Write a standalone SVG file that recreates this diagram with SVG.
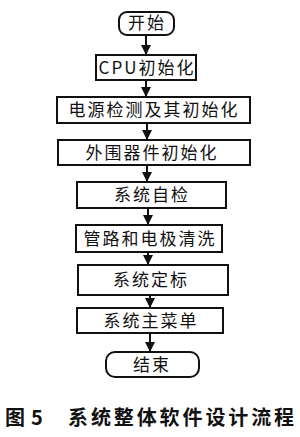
<svg xmlns="http://www.w3.org/2000/svg" width="300" height="437" viewBox="0 0 300 437">
<style>
.b{fill:#fff;stroke:#111;stroke-width:2}
.t{font-family:"Noto Sans CJK SC","Liberation Serif",sans-serif;font-size:17px;fill:#111;text-anchor:middle;letter-spacing:2px}
.c{stroke:#111;stroke-width:2;fill:none}
.cap{font-family:"Noto Sans CJK SC","Liberation Sans",sans-serif;font-size:20px;fill:#111;font-weight:bold}
</style>
<defs>
<marker id="ah" viewBox="0 0 10 10" refX="10" refY="5" markerWidth="5" markerHeight="5" orient="auto" markerUnits="strokeWidth">
<path d="M0,0 L10,5 L0,10 z" fill="#111"/>
</marker>
</defs>
<rect width="300" height="437" fill="#fff"/>
<g id="connectors">
<line class="c" x1="146" y1="35" x2="146" y2="55" marker-end="url(#ah)"/>
<line class="c" x1="146" y1="80" x2="146" y2="97" marker-end="url(#ah)"/>
<line class="c" x1="147" y1="123" x2="147" y2="140" marker-end="url(#ah)"/>
<line class="c" x1="147" y1="165" x2="147" y2="182" marker-end="url(#ah)"/>
<line class="c" x1="148" y1="208" x2="148" y2="225" marker-end="url(#ah)"/>
<line class="c" x1="148" y1="252" x2="148" y2="265" marker-end="url(#ah)"/>
<line class="c" x1="150" y1="295" x2="150" y2="308" marker-end="url(#ah)"/>
<line class="c" x1="150" y1="333" x2="150" y2="352" marker-end="url(#ah)"/>
</g>
<g id="start"><rect class="b" x="119" y="12" width="55" height="23" rx="8"/><text class="t" x="147" y="29">开始</text></g>
<g id="cpu"><rect class="b" x="96" y="55" width="100" height="25"/><text class="t" x="147" y="74">CPU初始化</text></g>
<g id="power"><rect class="b" x="57" y="97" width="193" height="26"/><text class="t" x="154" y="116">电源检测及其初始化</text></g>
<g id="periph"><rect class="b" x="58" y="140" width="192" height="25"/><text class="t" x="152" y="159">外围器件初始化</text></g>
<g id="selfcheck"><rect class="b" x="77" y="182" width="149" height="26"/><text class="t" x="152" y="201">系统自检</text></g>
<g id="clean"><rect class="b" x="76" y="225" width="146" height="27"/><text class="t" x="150" y="245">管路和电极清洗</text></g>
<g id="calib"><rect class="b" x="78" y="265" width="150" height="30"/><text class="t" x="151" y="286">系统定标</text></g>
<g id="menu"><rect class="b" x="77" y="308" width="146" height="25"/><text class="t" x="151" y="327">系统主菜单</text></g>
<g id="end"><rect class="b" x="106" y="352" width="93" height="25" rx="9"/><text class="t" x="152" y="371">结束</text></g>
<text class="cap" x="5" y="425">图</text>
<text class="cap" x="31" y="425" font-family="Liberation Serif">5</text>
<text class="cap" x="68" y="425" letter-spacing="2.9">系统整体软件设计流程</text>
</svg>
